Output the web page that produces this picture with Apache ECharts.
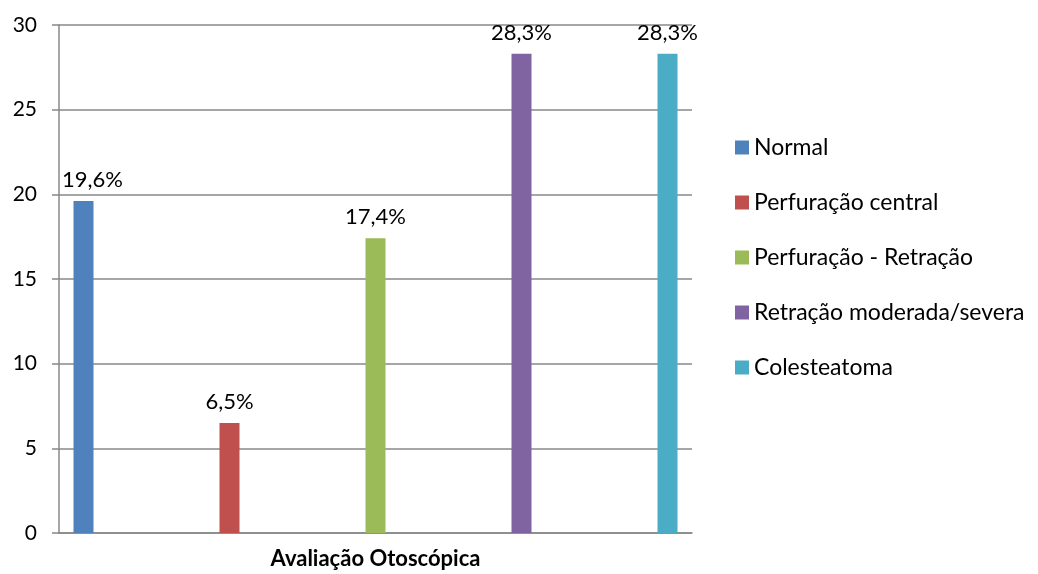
<!DOCTYPE html>
<html>
<head>
<meta charset="utf-8">
<script src="https://cdn.jsdelivr.net/npm/echarts@6/dist/echarts.min.js"></script>
<style>
  html, body { margin: 0; padding: 0; background: #fff; }
  #chart { width: 1038px; height: 574px; }
</style>
</head>
<body>
<div id="chart"></div>
<script>
// Otoscopic evaluation: share of cases (%) per finding
const categories = ['Avaliação Otoscópica'];
const seriesNames = ['Normal', 'Perfuração central', 'Perfuração - Retração', 'Retração moderada/severa', 'Colesteatoma'];
const seriesValues = [19.6, 6.5, 17.4, 28.3, 28.3];
const seriesColors = ['#4F81BD', '#C0504D', '#9BBB59', '#8064A2', '#4BACC6'];
const yTicks = { min: 0, max: 30, interval: 5 };

const FONT = 'Lato, "Open Sans", sans-serif';

const series = seriesNames.map((name, i) => ({
  name: name,
  type: 'bar',
  data: [seriesValues[i]],
  barWidth: 20,
  barGap: '630%',
  itemStyle: { color: seriesColors[i] },
  label: {
    show: true,
    position: 'top',
    distance: 10,
    offset: i === 0 ? [9, 0] : [0, 0],
    color: '#000',
    fontFamily: FONT,
    fontSize: 22,
    formatter: p => p.value.toFixed(1).replace('.', ',') + '%'
  }
}));

const chart = echarts.init(document.getElementById('chart'), null, { renderer: 'canvas' });
chart.setOption({
  animation: false,
  textStyle: { fontFamily: FONT },
  grid: { left: 59, right: 346, top: 25, bottom: 41, containLabel: false },
  legend: {
    orient: 'vertical',
    left: 730,
    top: 131,
    itemWidth: 14,
    itemHeight: 14,
    itemGap: 32,
    icon: 'rect',
    textStyle: { color: '#000', fontSize: 23, fontFamily: FONT },
    data: seriesNames
  },
  xAxis: {
    type: 'category',
    data: categories,
    axisLine: { lineStyle: { color: '#888', width: 1.5 } },
    axisTick: { show: false },
    axisLabel: { color: '#000', fontWeight: 'bold', fontSize: 22, margin: 15, fontFamily: FONT }
  },
  yAxis: {
    type: 'value',
    min: yTicks.min,
    max: yTicks.max,
    interval: yTicks.interval,
    axisLine: { show: true, lineStyle: { color: '#888', width: 1.5 } },
    axisTick: { show: true, length: 7, lineStyle: { color: '#888', width: 1.5 } },
    splitLine: { lineStyle: { color: '#888', width: 1.5 } },
    axisLabel: { color: '#000', fontSize: 21, margin: 22, fontFamily: FONT }
  },
  series: series
});
</script>
</body>
</html>
